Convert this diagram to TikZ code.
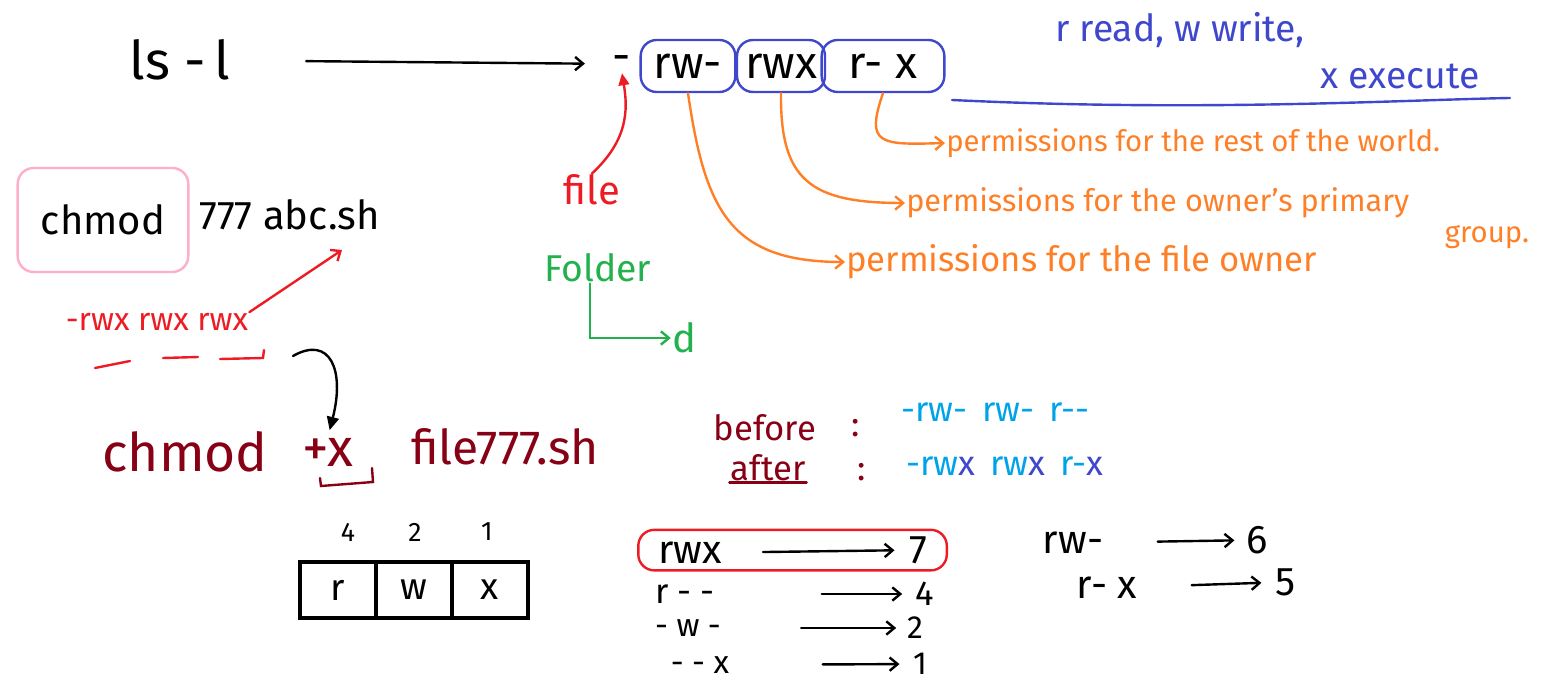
\documentclass[tikz,border=0pt]{standalone}
\usepackage{fontspec}
\setmainfont{Fira Sans}
\usetikzlibrary{arrows.meta,positioning,fit}
\definecolor{permblue}{RGB}{63,72,204}
\definecolor{noteorange}{RGB}{255,127,39}
\definecolor{markred}{RGB}{237,28,36}
\definecolor{foldergreen}{RGB}{34,177,76}
\definecolor{blobpink}{RGB}{255,174,201}
\definecolor{inkred}{RGB}{136,0,21}
\definecolor{skyblue}{RGB}{0,162,232}

\begin{document}
\begin{tikzpicture}[x=0.75pt,y=0.75pt,yscale=-1,xscale=1,
  hand/.style={font=\fontsize{#1}{#1}\selectfont, inner sep=0.75pt},
  blob/.style={draw=#1, line width=1.8pt, rounded corners=12pt},
  pen/.style={line width=1.8pt, line cap=round},
  barb/.style={-{Straight Barb[length=6pt,width=10pt]}},
  cellbox/.style={draw, line width=3.5pt, minimum width=57pt, minimum height=42pt, outer sep=0pt, font=\fontsize{28}{28}\selectfont}]
		\useasboundingbox (0,0) rectangle (1567,691);
		\node[hand=40] (lsl) at (180,60) {ls -\,l};
		\node[hand=34] (dash) at (622,64) {-};
		\node[hand=34, blob=permblue, minimum width=71pt, minimum height=39pt] (owner) at (688,66) {rw-};
		\node[hand=34, blob=permblue, minimum width=66pt, minimum height=39pt] (group) at (781,66) {rwx};
		\node[hand=34, blob=permblue, minimum width=92pt, minimum height=39pt] (world) at (883,66) {r- x};
		\draw[pen, barb, shorten <=56pt, shorten >=20pt] (lsl) -- (dash);
		\node[hand=26, noteorange, anchor=west] (ownertxt) at (845,262) {permissions for the file owner};
		\node[hand=23, noteorange, anchor=west] (grouptxt) at (905,203) {permissions for the owner's primary};
		\node[hand=22, noteorange] (grouptxtb) at (1487,237) {group.};
		\node[hand=22, noteorange, anchor=west] (worldtxt) at (945,143) {permissions for the rest of the world.};
		\draw[pen, noteorange, barb] (owner.south) .. controls (705,210) and (730,262) .. (ownertxt.west);
		\draw[pen, noteorange, barb] (group.south) .. controls (780,180) and (810,203) .. (grouptxt.west);
		\draw[pen, noteorange, barb] (world.south) .. controls (865,145) and (880,145) .. (worldtxt.west);
		\node[hand=28, permblue] (legendrw) at (1180,30) {r read, w write,};
		\node[hand=28, permblue] (legendx) at (1400,76) {x execute};
		\draw[pen, permblue] (952,100) .. controls (1200,112) and (1400,100) .. (1510,98);
		\node[hand=30, markred] (filelbl) at (592,190) {file};
		\node[hand=28, foldergreen] (folderlbl) at (598,268) {Folder};
		\node[hand=30, foldergreen] (dlbl) at (684,338) {d};
		\draw[pen, markred, -{Triangle[length=9pt,width=8pt]}] (filelbl.north) .. controls (628,140) and (628,110) .. (dash.south);
		\draw[pen, foldergreen, barb] ([xshift=-6pt]folderlbl.south) |- (dlbl.west);
		\node[hand=30, blob=blobpink, minimum width=128pt, minimum height=78pt] (chmoda) at (103,220) {chmod};
		\node[hand=30, anchor=west] (abc) at (198,215) {777 abc.sh};
		\node[hand=24, markred] (octal) at (157,322) {-rwx rwx rwx};
		\coordinate (abctip) at (342,250);
		\draw[pen, markred, barb] (octal.north east) -- (abctip);
		\draw[pen, markred] (95,368) -- (130,361);
		\draw[pen, markred] (163,358) -- (198,357);
		\draw[pen, markred] (220,359) -- (263,358) -- (264,350);
		\node[hand=40, inkred] (chmodb) at (185,452) {chmod};
		\node[hand=40, inkred] (plusx) at (328,452) {+x};
		\node[hand=36, inkred, anchor=west] (fileb) at (410,447) {file777.sh};
		\draw[pen, inkred] (320,478) -- (321,486) -- (373,482) -- (372,468);
		\coordinate (curlstart) at (293,356);
		\draw[pen, -{Triangle[length=10pt,width=9pt]}, shorten >=5pt] (curlstart) .. controls (330,335) and (345,370) .. (plusx.north);
		\node[hand=26, inkred] (beforelbl) at (765,428) {before};
		\node[hand=26, inkred] (colona) at (856,428) {:};
		\node[hand=26, skyblue, anchor=west] (beforeperm) at (900,412) {-rw-\, rw-\, r-{}-};
		\node[hand=26, inkred] (afterlbl) at (768,468) {after};
		\node[hand=26, inkred] (colonb) at (862,472) {:};
		\node[hand=26, skyblue, anchor=west] (afterperm) at (905,466) {-rw\textcolor{permblue}{x}\, rw\textcolor{permblue}{x}\, r-\textcolor{permblue}{x}};
		\draw[pen, inkred] (afterlbl.south west) -- (afterlbl.south east);
		\node[hand=20] (wr) at (348,532) {4};
		\node[hand=20] (ww) at (415,532) {2};
		\node[hand=20] (wx) at (487,532) {1};
		\node[cellbox] (cr) at (338,590) {r};
		\node[cellbox, right=0pt of cr] (cw) {w};
		\node[cellbox, right=0pt of cw] (cx) {x};
		\node[hand=30] (m7) at (690,553) {rwx};
		\node[hand=30] (v7) at (918,550) {7};
		\node[blob=markred, fit=(m7)(v7), inner xsep=14pt, inner ysep=4pt] (ring) {};
		\draw[pen, barb, shorten <=30pt, shorten >=10pt] (m7) -- (v7);
		\node[hand=26, inner sep=0pt] (m4) at (685,594) {r -{} -};
		\node[hand=26, inner sep=0pt] (v4) at (925,594) {4};
		\draw[pen, barb, shorten <=80pt, shorten >=10pt] (m4) -- (v4);
		\node[hand=24, inner sep=0pt] (m2) at (688,628) {- w -};
		\node[hand=24, inner sep=0pt] (v2) at (915,628) {2};
		\draw[pen, barb, shorten <=60pt, shorten >=8pt] (m2) -- (v2);
		\node[hand=24, inner sep=0pt] (m1) at (700,665) {- -{} x};
		\node[hand=24, inner sep=0pt] (v1) at (920,664) {1};
		\draw[pen, barb, shorten <=70pt, shorten >=10pt] (m1) -- (v1);
		\node[hand=30] (m6) at (1073,543) {rw-};
		\node[hand=30] (v6) at (1257,540) {6};
		\draw[pen, barb, shorten <=40pt, shorten >=8pt] (m6) -- (v6);
		\node[hand=30] (m5) at (1107,588) {r- x};
		\node[hand=30] (v5) at (1286,582) {5};
		\draw[pen, barb, shorten <=40pt, shorten >=10pt] (m5) -- (v5);
\end{tikzpicture}
\end{document}
